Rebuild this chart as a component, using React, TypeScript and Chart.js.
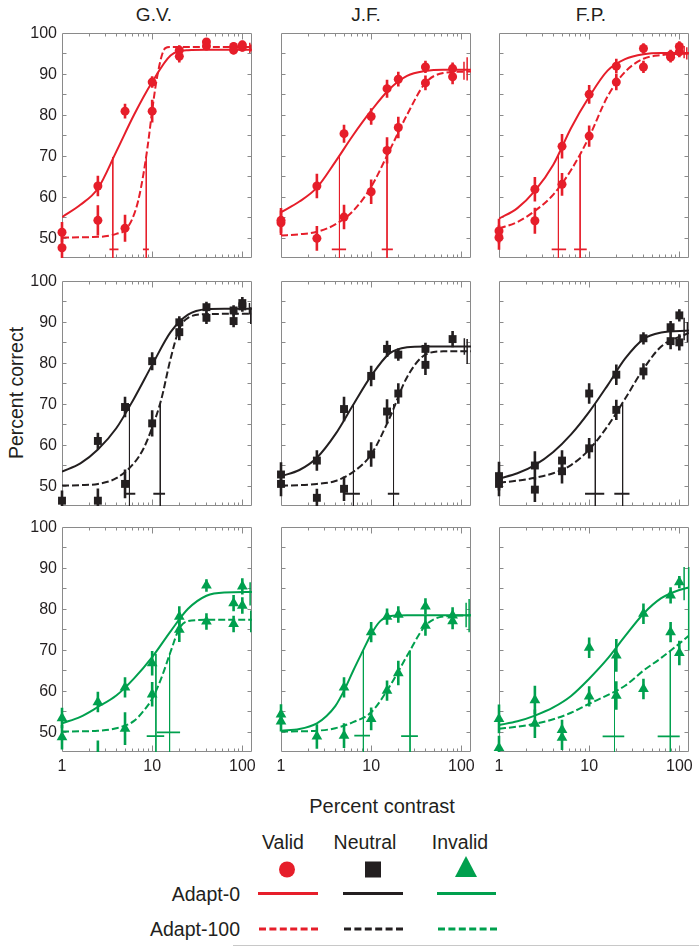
import React, { useEffect, useRef } from 'react';
import { Chart, registerables } from 'chart.js';

Chart.register(...registerables);

// ---------- colours & fonts ----------
const RED = '#e61e2a';
const BLACK = '#231f20';
const GREEN = '#00a04e';
const FRAME = '#8a8a8a';
const TEXT = '#231f20';
const FONT = '"Liberation Sans", Arial, Helvetica, sans-serif';

// ---------- axes ----------
const Y_MIN = 45;
const Y_MAX = 100;
const X_MIN = 1;
const X_MAX = 128;
const Y_LABELS = [50, 60, 70, 80, 90, 100];
const Y_TICKS = [50, 55, 60, 65, 70, 75, 80, 85, 90, 95];
const X_LABELS = [1, 10, 100];
const X_MAJOR = [10, 100];
const X_MINOR = [2, 3, 4, 5, 6, 7, 8, 9, 20, 30, 40, 50, 60, 70, 80, 90];

const SUBJECTS = ['G.V.', 'J.F.', 'F.P.'];
const CUES = ['Valid', 'Neutral', 'Invalid'];
const ADAPT = ['Adapt-0', 'Adapt-100'];

const FIT_GRID = [1, 1.6, 2.5, 4, 6.3, 10, 16, 25, 40, 63, 128];

// ================= G.V. – Valid =================
const GV_V_X = [1, 2.5, 5, 10, 20, 40, 80, 100];
const GV_V_A0 = [51.3, 62.6, 80.9, 88.0, 94.3, 97.8, 95.8, 97.1];
const GV_V_A0_ERR = [2.5, 2.5, 1.8, 1.4, 1.5, 1.0, 1.0, 1.0];
const GV_V_A100 = [47.5, 54.2, 52.3, 80.9, 95.8, 96.8, 96.7, 96.5];
const GV_V_A100_ERR = [3.0, 3.7, 3.3, 2.8, 1.2, 1.0, 1.0, 1.0];
const GV_V_FIT0_X = FIT_GRID;
const GV_V_FIT0 = [55.0, 58.0, 62.0, 71.0, 80.0, 88.0, 94.5, 95.8, 95.9, 95.9, 95.9];
const GV_V_FIT100_X = [1, 2, 3, 4, 5, 6, 7, 8, 9, 10, 11, 12, 13, 14, 16, 20, 128];
const GV_V_FIT100 = [50.0, 50.1, 50.3, 50.9, 51.8, 54.5, 59.0, 65.5, 73.0, 81.0, 87.5, 92.0, 95.0, 96.3, 96.6, 96.6, 96.6];
const GV_V_THR = [3.66, 8.6];
const GV_V_THR_LO = [3.36, 7.9];
const GV_V_THR_HI = [4.23, 9.2];
const GV_V_THR_PC = [69.7, 69.7];
const GV_V_THR_BAR = [47.1, 47.1];
const GV_V_ASYM_X = [121, 124];
const GV_V_ASYM_LO = [95.1, 95.5];
const GV_V_ASYM_HI = [97.6, 97.2];

// ================= J.F. – Valid =================
const JF_V_X = [1, 2.5, 5, 10, 15, 20, 40, 80];
const JF_V_A0 = [54.2, 62.6, 75.4, 79.6, 86.4, 88.7, 91.7, 91.3];
const JF_V_A0_ERR = [3.0, 3.0, 2.2, 2.0, 2.2, 1.8, 1.5, 1.5];
const JF_V_A100 = [53.6, 49.8, 55.0, 61.2, 71.3, 76.9, 87.8, 89.3];
const JF_V_A100_ERR = [3.0, 3.0, 3.0, 3.0, 3.2, 2.6, 1.8, 1.8];
const JF_V_FIT0_X = FIT_GRID;
const JF_V_FIT0 = [56.2, 58.8, 62.2, 68.5, 75.0, 81.0, 86.3, 89.5, 90.7, 91.0, 91.0];
const JF_V_FIT100_X = FIT_GRID;
const JF_V_FIT100 = [50.5, 50.8, 51.4, 53.2, 56.5, 62.4, 71.3, 80.0, 87.8, 90.2, 90.6];
const JF_V_THR = [4.45, 15.0];
const JF_V_THR_LO = [3.66, 13.1];
const JF_V_THR_HI = [5.27, 17.4];
const JF_V_THR_PC = [70.1, 70.1];
const JF_V_THR_BAR = [47.1, 47.1];
const JF_V_ASYM_X = [107, 116];
const JF_V_ASYM_LO = [88.6, 88.4];
const JF_V_ASYM_HI = [93.0, 94.1];

// ================= F.P. – Valid =================
const FP_V_X = [1, 2.5, 5, 10, 20, 40, 80, 100];
const FP_V_A0 = [51.6, 61.8, 72.3, 85.0, 91.9, 96.2, 94.1, 96.7];
const FP_V_A0_ERR = [3.0, 3.0, 3.0, 2.3, 1.8, 1.3, 1.3, 1.3];
const FP_V_A100 = [50.0, 54.1, 63.0, 74.8, 88.0, 91.7, 94.6, 95.4];
const FP_V_A100_ERR = [3.0, 3.2, 2.8, 2.6, 2.0, 1.5, 1.3, 1.3];
const FP_V_FIT0_X = FIT_GRID;
const FP_V_FIT0 = [54.6, 57.2, 61.4, 67.8, 76.8, 84.4, 90.8, 93.6, 94.8, 95.1, 95.1];
const FP_V_FIT100_X = FIT_GRID;
const FP_V_FIT100 = [52.2, 53.8, 56.5, 60.5, 66.5, 74.6, 84.5, 90.5, 93.7, 94.6, 95.0];
const FP_V_THR = [4.56, 7.94];
const FP_V_THR_LO = [3.84, 6.8];
const FP_V_THR_HI = [5.55, 9.4];
const FP_V_THR_PC = [70.1, 70.1];
const FP_V_THR_BAR = [47.1, 47.1];
const FP_V_ASYM_X = [113, 121];
const FP_V_ASYM_LO = [93.8, 93.5];
const FP_V_ASYM_HI = [96.8, 96.5];

// ================= G.V. – Neutral =================
const GV_N_X = [1, 2.5, 5, 10, 20, 40, 80, 100];
const GV_N_A0 = [null, 60.9, 69.2, 80.4, 89.9, 93.6, 92.8, 94.6];
const GV_N_A0_ERR = [0, 2.0, 2.5, 2.2, 1.5, 1.3, 1.3, 1.5];
const GV_N_A100 = [46.3, 46.3, 50.4, 65.2, 87.5, 91.0, 90.2, 93.8];
const GV_N_A100_ERR = [2.5, 3.0, 3.5, 3.2, 2.0, 1.5, 1.5, 1.3];
const GV_N_FIT0_X = FIT_GRID;
const GV_N_FIT0 = [53.4, 55.4, 58.8, 64.0, 71.3, 79.5, 87.5, 91.8, 93.1, 93.2, 93.2];
const GV_N_FIT100_X = [1, 1.6, 2.5, 4, 6.3, 8, 10, 12.6, 16, 20, 25, 40, 128];
const GV_N_FIT100 = [50.0, 50.1, 50.4, 51.8, 55.5, 59.0, 64.2, 71.0, 81.0, 88.3, 91.0, 91.9, 92.0];
const GV_N_THR = [5.6, 12.3];
const GV_N_THR_LO = [4.9, 10.3];
const GV_N_THR_HI = [6.5, 13.9];
const GV_N_THR_PC = [69.9, 69.9];
const GV_N_THR_BAR = [48.0, 48.0];
const GV_N_ASYM_X = [120, 124];
const GV_N_ASYM_LO = [91.8, 89.5];
const GV_N_ASYM_HI = [94.6, 93.6];

// ================= J.F. – Neutral =================
const JF_N_X = [1, 2.5, 5, 10, 15, 20, 40, 80];
const JF_N_A0 = [52.7, 56.1, 68.7, 76.8, 83.4, 82.0, 83.4, 85.8];
const JF_N_A0_ERR = [3.0, 2.5, 3.0, 2.5, 2.0, 1.5, 1.5, 2.0];
const JF_N_A100 = [50.4, 47.0, 49.2, 57.6, 68.1, 72.5, 79.5, null];
const JF_N_A100_ERR = [3.0, 2.2, 3.0, 3.0, 3.0, 2.5, 2.5, 0];
const JF_N_FIT0_X = FIT_GRID;
const JF_N_FIT0 = [52.3, 53.8, 56.8, 62.5, 69.7, 76.8, 82.3, 83.8, 84.0, 84.0, 84.0];
const JF_N_FIT100_X = FIT_GRID;
const JF_N_FIT100 = [50.0, 50.1, 50.4, 51.1, 53.3, 57.6, 66.5, 76.5, 82.0, 82.8, 82.8];
const JF_N_THR = [6.36, 17.7];
const JF_N_THR_LO = [5.1, 15.3];
const JF_N_THR_HI = [7.5, 20.5];
const JF_N_THR_PC = [69.9, 69.9];
const JF_N_THR_BAR = [48.0, 48.0];
const JF_N_ASYM_X = [108, 116];
const JF_N_ASYM_LO = [82.0, 79.7];
const JF_N_ASYM_HI = [86.0, 85.8];

// ================= F.P. – Neutral =================
const FP_N_X = [1, 2.5, 5, 10, 20, 40, 80, 100];
const FP_N_A0 = [52.3, 54.9, 56.1, 72.5, 77.1, 86.0, 88.7, 91.6];
const FP_N_A0_ERR = [3.5, 3.5, 2.5, 2.5, 2.5, 1.5, 1.5, 1.5];
const FP_N_A100 = [50.4, 49.0, 53.5, 59.1, 68.5, 77.9, 85.3, 85.0];
const FP_N_A100_ERR = [3.0, 3.0, 3.0, 2.5, 2.5, 2.0, 2.0, 2.0];
const FP_N_FIT0_X = FIT_GRID;
const FP_N_FIT0 = [51.7, 53.0, 55.0, 58.2, 62.5, 68.0, 74.5, 81.0, 85.8, 87.4, 87.9];
const FP_N_FIT100_X = FIT_GRID;
const FP_N_FIT100 = [50.7, 51.2, 51.9, 53.0, 55.0, 58.8, 64.5, 71.2, 78.5, 84.0, 87.3];
const FP_N_THR = [11.7, 23.5];
const FP_N_THR_LO = [9.0, 19.0];
const FP_N_THR_HI = [14.7, 28.0];
const FP_N_THR_PC = [69.9, 69.9];
const FP_N_THR_BAR = [48.0, 48.0];
const FP_N_ASYM_X = [113, 123];
const FP_N_ASYM_LO = [85.5, 85.0];
const FP_N_ASYM_HI = [91.0, 90.0];

// ================= G.V. – Invalid =================
const GV_I_X = [1, 2.5, 5, 10, 20, 40, 80, 100];
const GV_I_A0 = [53.3, 57.2, 60.8, 66.7, 78.1, 85.7, 81.4, 85.5];
const GV_I_A0_ERR = [2.5, 2.5, 2.5, 3.0, 2.5, 1.5, 2.0, 2.0];
const GV_I_A100 = [48.6, 44.0, 50.7, 59.1, 74.9, 76.9, 76.3, 80.8];
const GV_I_A100_ERR = [3.0, 3.8, 4.0, 3.0, 3.0, 2.0, 2.0, 2.0];
const GV_I_FIT0_X = FIT_GRID;
const GV_I_FIT0 = [52.0, 53.6, 56.0, 58.8, 63.0, 68.2, 74.5, 80.0, 83.2, 84.0, 84.1];
const GV_I_FIT100_X = [1, 1.6, 2.5, 4, 6.3, 8, 10, 12.6, 16, 20, 25, 40, 128];
const GV_I_FIT100 = [50.0, 50.05, 50.2, 50.8, 52.6, 55.0, 58.0, 63.0, 69.5, 75.2, 77.0, 77.3, 77.3];
const GV_I_THR = [11.0, 15.6];
const GV_I_THR_LO = [8.7, 11.3];
const GV_I_THR_HI = [13.6, 20.4];
const GV_I_THR_PC = [69.0, 69.0];
const GV_I_THR_BAR = [48.9, 49.8];
const GV_I_ASYM_X = [122, 124];
const GV_I_ASYM_LO = [80.8, 74.3];
const GV_I_ASYM_HI = [86.5, 79.6];

// ================= J.F. – Invalid =================
const JF_I_X = [1, 2.5, 5, 10, 15, 20, 40, 80];
const JF_I_A0 = [54.2, null, 60.8, 74.3, 78.1, 78.6, 80.6, 78.4];
const JF_I_A0_ERR = [2.5, 0, 2.5, 2.5, 2.0, 2.0, 2.0, 2.0];
const JF_I_A100 = [52.5, 48.8, 49.0, 53.1, 60.0, 64.3, 75.9, 77.0];
const JF_I_A100_ERR = [2.5, 3.0, 3.0, 2.8, 2.5, 3.0, 2.5, 2.0];
const JF_I_FIT0_X = [1, 1.6, 2.5, 3.2, 4, 5, 6.3, 8, 10, 12.6, 16, 25, 128];
const JF_I_FIT0 = [50.2, 50.6, 52.0, 53.8, 56.2, 60.0, 64.8, 69.5, 73.8, 77.0, 78.2, 78.4, 78.4];
const JF_I_FIT100_X = FIT_GRID;
const JF_I_FIT100 = [50.0, 50.05, 50.2, 50.8, 52.3, 54.7, 61.0, 68.5, 75.9, 78.1, 78.4];
const JF_I_THR = [8.2, 27.0];
const JF_I_THR_LO = [6.5, 21.5];
const JF_I_THR_HI = [9.7, 33.0];
const JF_I_THR_PC = [70.0, 69.8];
const JF_I_THR_BAR = [49.0, 48.9];
const JF_I_ASYM_X = [113, 122];
const JF_I_ASYM_LO = [75.5, 74.3];
const JF_I_ASYM_HI = [81.5, 82.4];

// ================= F.P. – Invalid =================
const FP_I_X = [1, 2.5, 5, 10, 20, 40, 80, 100];
const FP_I_A0 = [53.1, 57.7, 50.4, 70.5, 68.6, 78.8, 83.3, 86.5];
const FP_I_A0_ERR = [3.5, 3.5, 2.5, 2.5, 4.0, 2.5, 2.0, 1.5];
const FP_I_A100 = [46.0, 51.9, 48.5, 58.6, 58.8, 60.4, 74.3, 69.2];
const FP_I_A100_ERR = [3.0, 3.5, 3.0, 2.5, 3.5, 2.5, 2.5, 3.0];
const FP_I_FIT0_X = [1, 1.6, 2.5, 4, 6.3, 10, 16, 25, 40, 63, 100, 128];
const FP_I_FIT0 = [51.6, 52.5, 53.9, 55.9, 58.7, 62.9, 67.8, 73.3, 78.8, 82.6, 84.6, 85.2];
const FP_I_FIT100_X = [1, 1.6, 2.5, 4, 6.3, 10, 16, 25, 40, 63, 100, 128];
const FP_I_FIT100 = [50.7, 51.2, 51.9, 53.0, 54.6, 56.8, 58.9, 61.2, 64.9, 68.0, 71.5, 73.5];
const FP_I_THR = [19.1, 79.4];
const FP_I_THR_LO = [14.1, 57.5];
const FP_I_THR_HI = [24.5, 101];
const FP_I_THR_PC = [69.8, 69.8];
const FP_I_THR_BAR = [48.8, 48.8];
const FP_I_ASYM_X = [113, 127];
const FP_I_ASYM_LO = [82.1, 69.8];
const FP_I_ASYM_HI = [90.2, 90.2];

// ---------- layout ----------
const COL_LEFT = [62, 281, 499];
const ROW_TOP = [33, 281, 527];
const PLOT_W = 190;
const PLOT_H = 225;
const PADL = 40;
const PADT = 10;
const PADR = 12;
const PADB = 28;

type Num = number | null;
type Panel = {
  col: number; row: number; color: string; shape: string; radius: number;
  x: number[]; a0: Num[]; a0Err: number[]; a100: Num[]; a100Err: number[];
  fit0X: number[]; fit0: number[]; fit100X: number[]; fit100: number[];
  thr: number[]; thrLo: number[]; thrHi: number[]; thrPc: number[]; thrBar: number[];
  asymX: number[]; asymLo: number[]; asymHi: number[];
};

const mk = (col: number, row: number, arrs: any[]): Panel => {
  const color = [RED, BLACK, GREEN][row];
  const shape = ['circle', 'rect', 'triangle'][row];
  const radius = [4.5, 5.6, 6.2][row];
  const [x, a0, a0Err, a100, a100Err, fit0X, fit0, fit100X, fit100, thr, thrLo, thrHi, thrPc, thrBar, asymX, asymLo, asymHi] = arrs;
  return { col, row, color, shape, radius, x, a0, a0Err, a100, a100Err, fit0X, fit0, fit100X, fit100, thr, thrLo, thrHi, thrPc, thrBar, asymX, asymLo, asymHi };
};

const PANELS: Panel[] = [
  mk(0, 0, [GV_V_X, GV_V_A0, GV_V_A0_ERR, GV_V_A100, GV_V_A100_ERR, GV_V_FIT0_X, GV_V_FIT0, GV_V_FIT100_X, GV_V_FIT100, GV_V_THR, GV_V_THR_LO, GV_V_THR_HI, GV_V_THR_PC, GV_V_THR_BAR, GV_V_ASYM_X, GV_V_ASYM_LO, GV_V_ASYM_HI]),
  mk(1, 0, [JF_V_X, JF_V_A0, JF_V_A0_ERR, JF_V_A100, JF_V_A100_ERR, JF_V_FIT0_X, JF_V_FIT0, JF_V_FIT100_X, JF_V_FIT100, JF_V_THR, JF_V_THR_LO, JF_V_THR_HI, JF_V_THR_PC, JF_V_THR_BAR, JF_V_ASYM_X, JF_V_ASYM_LO, JF_V_ASYM_HI]),
  mk(2, 0, [FP_V_X, FP_V_A0, FP_V_A0_ERR, FP_V_A100, FP_V_A100_ERR, FP_V_FIT0_X, FP_V_FIT0, FP_V_FIT100_X, FP_V_FIT100, FP_V_THR, FP_V_THR_LO, FP_V_THR_HI, FP_V_THR_PC, FP_V_THR_BAR, FP_V_ASYM_X, FP_V_ASYM_LO, FP_V_ASYM_HI]),
  mk(0, 1, [GV_N_X, GV_N_A0, GV_N_A0_ERR, GV_N_A100, GV_N_A100_ERR, GV_N_FIT0_X, GV_N_FIT0, GV_N_FIT100_X, GV_N_FIT100, GV_N_THR, GV_N_THR_LO, GV_N_THR_HI, GV_N_THR_PC, GV_N_THR_BAR, GV_N_ASYM_X, GV_N_ASYM_LO, GV_N_ASYM_HI]),
  mk(1, 1, [JF_N_X, JF_N_A0, JF_N_A0_ERR, JF_N_A100, JF_N_A100_ERR, JF_N_FIT0_X, JF_N_FIT0, JF_N_FIT100_X, JF_N_FIT100, JF_N_THR, JF_N_THR_LO, JF_N_THR_HI, JF_N_THR_PC, JF_N_THR_BAR, JF_N_ASYM_X, JF_N_ASYM_LO, JF_N_ASYM_HI]),
  mk(2, 1, [FP_N_X, FP_N_A0, FP_N_A0_ERR, FP_N_A100, FP_N_A100_ERR, FP_N_FIT0_X, FP_N_FIT0, FP_N_FIT100_X, FP_N_FIT100, FP_N_THR, FP_N_THR_LO, FP_N_THR_HI, FP_N_THR_PC, FP_N_THR_BAR, FP_N_ASYM_X, FP_N_ASYM_LO, FP_N_ASYM_HI]),
  mk(0, 2, [GV_I_X, GV_I_A0, GV_I_A0_ERR, GV_I_A100, GV_I_A100_ERR, GV_I_FIT0_X, GV_I_FIT0, GV_I_FIT100_X, GV_I_FIT100, GV_I_THR, GV_I_THR_LO, GV_I_THR_HI, GV_I_THR_PC, GV_I_THR_BAR, GV_I_ASYM_X, GV_I_ASYM_LO, GV_I_ASYM_HI]),
  mk(1, 2, [JF_I_X, JF_I_A0, JF_I_A0_ERR, JF_I_A100, JF_I_A100_ERR, JF_I_FIT0_X, JF_I_FIT0, JF_I_FIT100_X, JF_I_FIT100, JF_I_THR, JF_I_THR_LO, JF_I_THR_HI, JF_I_THR_PC, JF_I_THR_BAR, JF_I_ASYM_X, JF_I_ASYM_LO, JF_I_ASYM_HI]),
  mk(2, 2, [FP_I_X, FP_I_A0, FP_I_A0_ERR, FP_I_A100, FP_I_A100_ERR, FP_I_FIT0_X, FP_I_FIT0, FP_I_FIT100_X, FP_I_FIT100, FP_I_THR, FP_I_THR_LO, FP_I_THR_HI, FP_I_THR_PC, FP_I_THR_BAR, FP_I_ASYM_X, FP_I_ASYM_LO, FP_I_ASYM_HI]),
];

// ---------- frame / ticks / tick labels plugin ----------
const framePlugin = {
  id: 'frame',
  beforeDatasetsDraw(chart: any, _args: any, opts: any) {
    const { ctx, chartArea: a, scales } = chart;
    const xs = scales.x;
    const ys = scales.y;
    const L = Math.round(a.left) + 0.5;
    const R = Math.round(a.right) - 0.5;
    const T = Math.round(a.top) + 0.5;
    const B = Math.round(a.bottom) - 0.5;
    ctx.save();
    ctx.strokeStyle = FRAME;
    ctx.lineWidth = 1;
    ctx.beginPath();
    ctx.rect(L, T, R - L, B - T);
    Y_TICKS.forEach((v) => {
      const py = Math.round(ys.getPixelForValue(v)) + 0.5;
      ctx.moveTo(L, py); ctx.lineTo(L + 4, py);
      ctx.moveTo(R, py); ctx.lineTo(R - 4, py);
    });
    X_MINOR.forEach((v) => {
      const px = Math.round(xs.getPixelForValue(v)) + 0.5;
      ctx.moveTo(px, T); ctx.lineTo(px, T + 3);
      ctx.moveTo(px, B); ctx.lineTo(px, B - 3);
    });
    X_MAJOR.forEach((v) => {
      const px = Math.round(xs.getPixelForValue(v)) + 0.5;
      ctx.moveTo(px, T); ctx.lineTo(px, T + 6);
      ctx.moveTo(px, B); ctx.lineTo(px, B - 6);
    });
    ctx.stroke();
    ctx.restore();
  },
  afterDraw(chart: any, _args: any, opts: any) {
    const { ctx, chartArea: a, scales } = chart;
    ctx.save();
    ctx.fillStyle = TEXT;
    ctx.font = `16px ${FONT}`;
    if (opts.showY) {
      ctx.textAlign = 'right';
      ctx.textBaseline = 'middle';
      Y_LABELS.forEach((v) => ctx.fillText(String(v), a.left - 5, scales.y.getPixelForValue(v) + 1));
    }
    if (opts.showX) {
      ctx.textAlign = 'center';
      ctx.textBaseline = 'middle';
      X_LABELS.forEach((v) => ctx.fillText(String(v), scales.x.getPixelForValue(v), a.bottom + 15));
    }
    ctx.restore();
  },
};

function buildDatasets(p: Panel) {
  const pts = (xs: number[], ys: Num[]) =>
    xs.map((x, i) => ({ x, y: ys[i] })).filter((d) => d.y != null);
  const bars = (xs: number[], ys: Num[], es: number[]) =>
    xs.flatMap((x, i) => (ys[i] == null ? [] : [
      { x, y: (ys[i] as number) - es[i] }, { x, y: (ys[i] as number) + es[i] }, { x, y: null },
    ]));
  const drops = p.thr.flatMap((t, i) => [{ x: t, y: p.thrPc[i] }, { x: t, y: Y_MIN }, { x: t, y: null }]);
  const ci = p.thr.flatMap((_t, i) => [
    { x: p.thrLo[i], y: p.thrBar[i] }, { x: p.thrHi[i], y: p.thrBar[i] }, { x: p.thrHi[i], y: null },
  ]);
  const asym = p.asymX.flatMap((x, i) => [{ x, y: p.asymLo[i] }, { x, y: p.asymHi[i] }, { x, y: null }]);
  const fit0 = p.fit0X.map((x, i) => ({ x, y: p.fit0[i] }));
  const fit100 = p.fit100X.map((x, i) => ({ x, y: p.fit100[i] }));

  const base = {
    borderColor: p.color, backgroundColor: p.color, pointRadius: 0, pointHoverRadius: 0,
    tension: 0, spanGaps: false, fill: false,
  };
  const markClip = { left: 12, right: 12, top: 12, bottom: 0 };
  const marker = (data: any[], label: string) => ({
    ...base, label, data, showLine: false, pointStyle: p.shape, pointRadius: p.radius,
    pointBackgroundColor: p.color, pointBorderColor: p.color, pointBorderWidth: 0, clip: markClip,
  });
  return [
    marker(pts(p.x, p.a0), 'Adapt-0 data'),
    marker(pts(p.x, p.a100), 'Adapt-100 data'),
    { ...base, label: 'err0', data: bars(p.x, p.a0, p.a0Err), borderWidth: 2.6, borderCapStyle: 'butt', clip: markClip },
    { ...base, label: 'err100', data: bars(p.x, p.a100, p.a100Err), borderWidth: 2.6, borderCapStyle: 'butt', clip: markClip },
    { ...base, label: 'Adapt-0 fit', data: fit0, borderWidth: 2, cubicInterpolationMode: 'monotone' },
    { ...base, label: 'Adapt-100 fit', data: fit100, borderWidth: 2, borderDash: [7, 3], cubicInterpolationMode: 'monotone' },
    { ...base, label: 'thresholds', data: drops, borderWidth: 1 },
    { ...base, label: 'threshold CI', data: ci, borderWidth: 1.8, clip: markClip },
    { ...base, label: 'asymptote', data: asym, borderWidth: 1.5, clip: markClip },
  ];
}

function PanelChart({ p }: { p: Panel }) {
  const ref = useRef<HTMLCanvasElement>(null);
  const W = PLOT_W + PADL + PADR;
  const H = PLOT_H + PADT + PADB;
  useEffect(() => {
    const canvas = ref.current;
    if (!canvas) return;
    const chart = new Chart(canvas, {
      type: 'line',
      data: { datasets: buildDatasets(p) as any },
      options: {
        animation: false,
        responsive: false,
        devicePixelRatio: 1,
        events: [],
        layout: { padding: { left: PADL, top: PADT, right: PADR, bottom: PADB } },
        scales: {
          x: { type: 'logarithmic', min: X_MIN, max: X_MAX, display: false },
          y: { type: 'linear', min: Y_MIN, max: Y_MAX, display: false },
        },
        plugins: {
          legend: { display: false },
          tooltip: { enabled: false },
          frame: { showY: p.col === 0, showX: p.row === 2 },
        } as any,
      },
      plugins: [framePlugin],
    });
    return () => chart.destroy();
  }, [p]);
  return (
    <canvas
      ref={ref}
      width={W}
      height={H}
      style={{ position: 'absolute', left: COL_LEFT[p.col] - PADL, top: ROW_TOP[p.row] - PADT, width: W, height: H }}
    />
  );
}

const TITLE_X = [154, 366, 591];
const LEGEND_COL_X = [287, 373, 466];
const LEGEND_LABEL_X = [283, 365, 460];
const LEGEND_LINE_X0 = [258, 343, 437];
const LEGEND_LINE_X1 = [318, 403, 496];
const LEGEND_COLORS = [RED, BLACK, GREEN];

function Overlay() {
  return (
    <svg width={699} height={947} style={{ position: 'absolute', left: 0, top: 0 }} fontFamily={FONT} fill={TEXT}>
      {SUBJECTS.map((s, i) => (
        <text key={s} x={TITLE_X[i]} y={20.5} fontSize={19} textAnchor="middle">{s}</text>
      ))}
      <text transform="translate(22.5,393) rotate(-90)" fontSize={19.5} textAnchor="middle">Percent correct</text>
      <text x={382} y={813} fontSize={20} textAnchor="middle">Percent contrast</text>
      {CUES.map((c, i) => (
        <text key={c} x={LEGEND_LABEL_X[i]} y={848.5} fontSize={19.5} textAnchor="middle">{c}</text>
      ))}
      <circle cx={LEGEND_COL_X[0]} cy={869.5} r={8} fill={RED} />
      <rect x={LEGEND_COL_X[1] - 8} y={861.5} width={16} height={16} fill={BLACK} />
      <polygon points={`${LEGEND_COL_X[2] - 11},877 ${LEGEND_COL_X[2] + 11},877 ${LEGEND_COL_X[2]},856`} fill={GREEN} />
      <text x={240} y={900.5} fontSize={19.5} textAnchor="end">{ADAPT[0]}</text>
      <text x={240} y={936} fontSize={19.5} textAnchor="end">{ADAPT[1]}</text>
      {LEGEND_COLORS.map((c, i) => (
        <g key={c}>
          <line x1={LEGEND_LINE_X0[i]} x2={LEGEND_LINE_X1[i]} y1={893.5} y2={893.5} stroke={c} strokeWidth={3} />
          <line x1={LEGEND_LINE_X0[i] + 1} x2={LEGEND_LINE_X1[i] + 2} y1={929} y2={929} stroke={c} strokeWidth={3}
            strokeDasharray="7 3.4" strokeLinecap="butt" />
        </g>
      ))}
      <line x1={233} x2={699} y1={945.5} y2={945.5} stroke="#c8c8c8" strokeWidth={1} />
    </svg>
  );
}

export default function App() {
  return (
    <div style={{ position: 'absolute', left: 0, top: 0, width: 699, height: 947, background: '#fff', overflow: 'hidden' }}>
      <Overlay />
      {PANELS.map((p) => (
        <PanelChart key={`${p.col}-${p.row}`} p={p} />
      ))}
    </div>
  );
}
